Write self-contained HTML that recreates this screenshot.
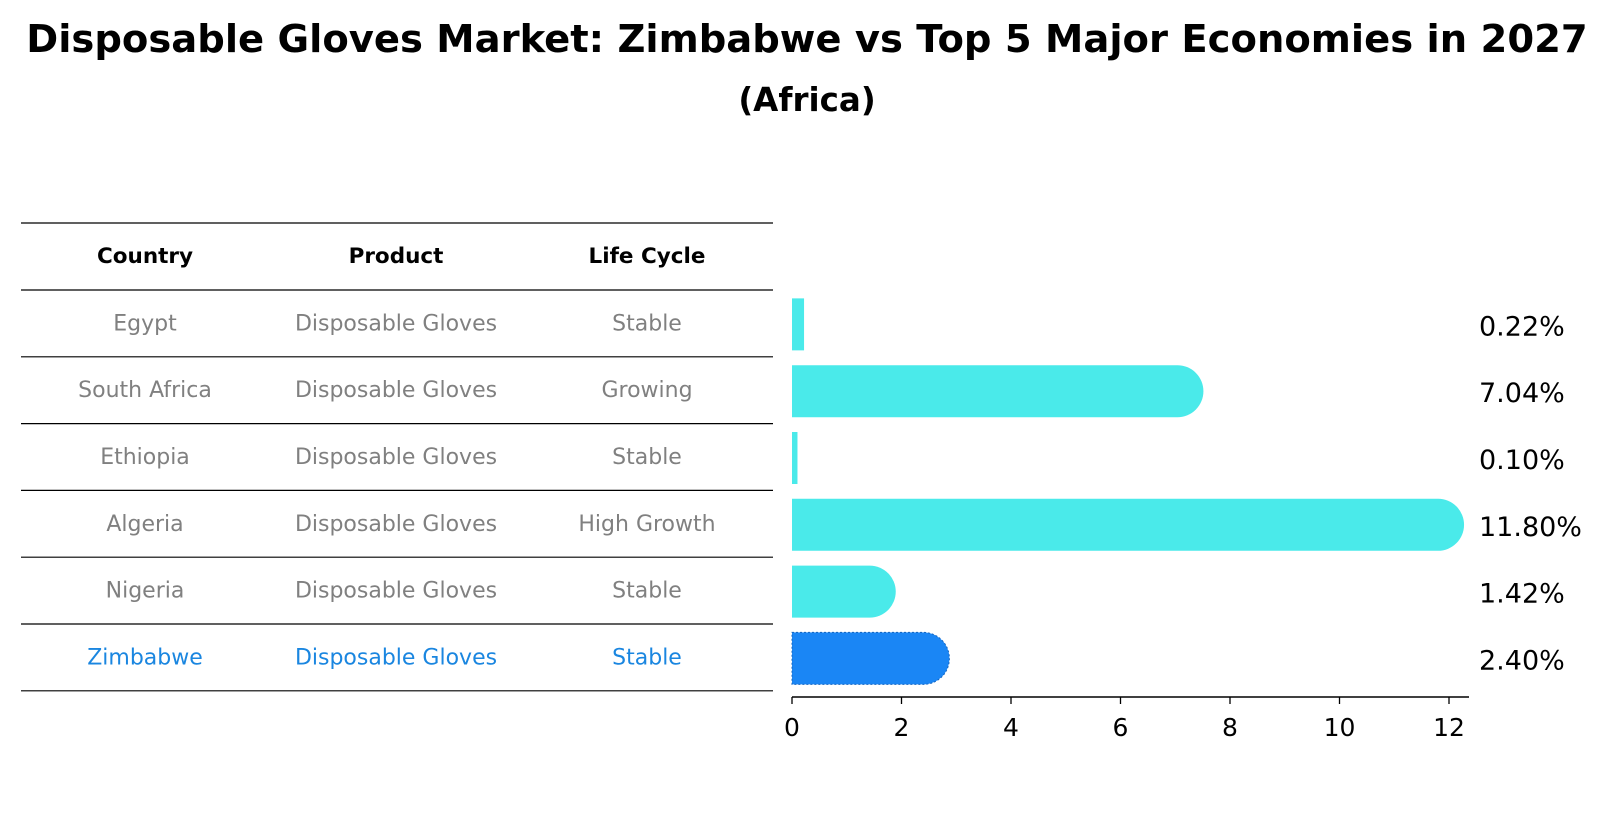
<!DOCTYPE html>
<html><head><meta charset="utf-8"><style>
body{margin:0;background:#fff;font-family:"Liberation Sans","DejaVu Sans",sans-serif;}
svg{display:block}
</style></head><body>
<svg width="1615" height="823" viewBox="0 0 1615 823" xmlns="http://www.w3.org/2000/svg" font-family="DejaVu Sans, Liberation Sans, sans-serif">
<text x="807" y="52" text-anchor="middle" font-size="38.5" font-weight="bold">Disposable Gloves Market: Zimbabwe vs Top 5 Major Economies in 2027</text>
<text x="807" y="111" text-anchor="middle" font-size="32.5" font-weight="bold">(Africa)</text>
<g id="table"></g>
<g id="bars"></g>
</svg>
<script>
const countries=["Egypt","South Africa","Ethiopia","Algeria","Nigeria","Zimbabwe"];
const products=["Disposable Gloves","Disposable Gloves","Disposable Gloves","Disposable Gloves","Disposable Gloves","Disposable Gloves"];
const lifecycles=["Stable","Growing","Stable","High Growth","Stable","Stable"];
const values=[0.22,7.04,0.10,11.80,1.42,2.40];
const valueLabels=["0.22%","7.04%","0.10%","11.80%","1.42%","2.40%"];
const ticks=[0,2,4,6,8,10,12];
const NS="http://www.w3.org/2000/svg";
function mk(tag,attrs,parent,text){const e=document.createElementNS(NS,tag);for(const k in attrs)e.setAttribute(k,attrs[k]);if(text!==undefined)e.textContent=text;parent.appendChild(e);return e;}
const x=v=>792+v*54.75;
const rowTop=i=>290+i*66.8;
const T=document.getElementById('table');
const lineYs=[223];for(let i=0;i<=countries.length;i++)lineYs.push(rowTop(i));
lineYs.forEach(y=>{const l=mk('line',{x1:21,x2:773,y1:y,y2:y,stroke:'#000','stroke-width':1.2},T);

});
const cols=[145,396,647];
["Country","Product","Life Cycle"].forEach((h,j)=>{const t=mk('text',{x:cols[j],y:263,'text-anchor':'middle','font-size':21.5,'font-weight':'bold'},T,h);

});
countries.forEach((c,i)=>{const cy=rowTop(i)+33.4+7;const col=i===countries.length-1?'#1a86e0':'#808080';
[c,products[i],lifecycles[i]].forEach((s,j)=>{const t=mk('text',{x:cols[j],y:cy,'text-anchor':'middle','font-size':22,fill:col},T,s);

});});
const B=document.getElementById('bars');
const h=52;
values.forEach((v,i)=>{const cy=rowTop(i)+33.4+1;const w=x(v)-x(0);const r=w>h/2?h/2:0;
const zim=i===values.length-1;
const p=mk('path',{d:`M${x(0)},${cy-h/2} H${x(v)} ${r?`A${r},${r} 0 0 1 ${x(v)},${cy+h/2}`:`V${cy+h/2}`} H${x(0)} Z`,fill:zim?'#1a86f5':'#4aeaea',stroke:zim?'#1565c0':'none','stroke-dasharray':zim?'2,2':'none','stroke-width':zim?1:0},B);


const t=mk('text',{x:1479,y:cy+11,'font-size':27},B,valueLabels[i]);

});
const ax=mk('line',{x1:x(0),x2:x(0)+677,y1:697,y2:697,stroke:'#000','stroke-width':1.5},B);


ticks.forEach(t=>{const l=mk('line',{x1:x(t),x2:x(t),y1:697,y2:704,stroke:'#000','stroke-width':1.3},B);


const tx=mk('text',{x:x(t),y:736,'text-anchor':'middle','font-size':25},B,String(t));

});
</script>
</body></html>
